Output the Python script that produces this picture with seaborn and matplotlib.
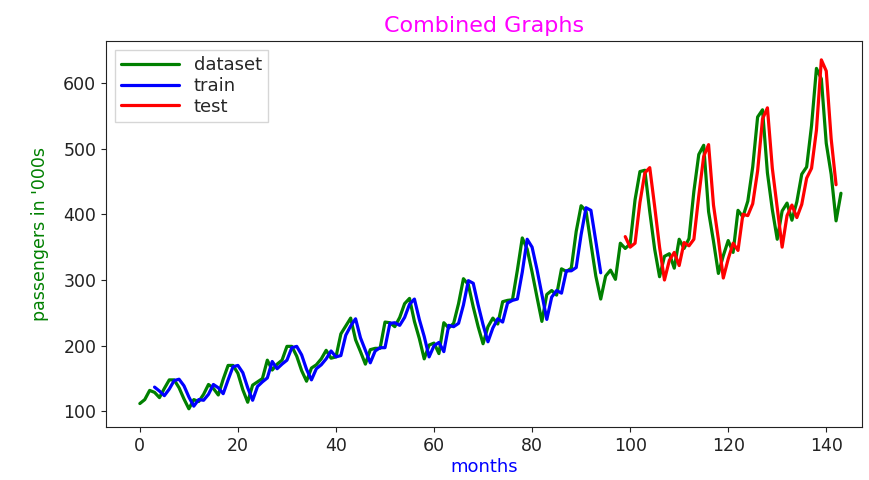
import numpy as np
import pandas as pd
import matplotlib
matplotlib.use("Agg")
import matplotlib.pyplot as plt
import seaborn as sns

# monthly airline passengers ('000s), months 0..143
passengers = [112, 118, 132, 129, 121, 135, 148, 148, 136, 119, 104, 118,
              115, 126, 141, 135, 125, 149, 170, 170, 158, 133, 114, 140,
              145, 150, 178, 163, 172, 178, 199, 199, 184, 162, 146, 166,
              171, 180, 193, 181, 183, 218, 230, 242, 209, 191, 172, 194,
              196, 196, 236, 235, 229, 243, 264, 272, 237, 211, 180, 201,
              204, 188, 235, 227, 234, 264, 302, 293, 259, 229, 203, 229,
              242, 233, 267, 269, 270, 315, 364, 347, 312, 274, 237, 278,
              284, 277, 317, 313, 318, 374, 413, 405, 355, 306, 271, 306,
              315, 301, 356, 348, 355, 422, 465, 467, 404, 347, 305, 336,
              340, 318, 362, 348, 363, 435, 491, 505, 404, 359, 310, 337,
              360, 342, 406, 396, 420, 472, 548, 559, 463, 407, 362, 405,
              417, 391, 419, 461, 472, 535, 622, 606, 508, 461, 390, 432]

# train predictions, months 3..94
train_start = 3
train_pred = [137, 131, 124, 134, 147, 149, 139, 122, 108, 118, 117, 126,
              141, 136, 127, 148, 168, 170, 159, 136, 117, 138, 145, 151,
              176, 165, 172, 178, 197, 199, 186, 164, 148, 165, 171, 180,
              192, 183, 185, 216, 230, 241, 212, 193, 174, 192, 197, 197,
              234, 235, 231, 243, 263, 271, 240, 214, 183, 200, 205, 191,
              231, 229, 234, 262, 299, 295, 262, 232, 206, 227, 241, 236,
              265, 269, 271, 312, 362, 350, 316, 278, 240, 274, 284, 280,
              314, 314, 319, 369, 410, 406, 359, 311]

# test predictions, months 99..142
test_start = 99
test_pred = [366, 350, 356, 418, 463, 471, 412, 350, 300, 330,
             342, 322, 357, 352, 362, 428, 488, 506, 414, 362, 303, 332,
             356, 345, 400, 398, 416, 466, 545, 562, 470, 410, 350, 398,
             414, 395, 415, 455, 470, 528, 635, 618, 515, 445]

df = pd.DataFrame({"month": np.arange(len(passengers)), "value": passengers})
df_train = pd.DataFrame({"month": np.arange(train_start, train_start + len(train_pred)),
                         "value": train_pred})
df_test = pd.DataFrame({"month": np.arange(test_start, test_start + len(test_pred)),
                        "value": test_pred})

sns.set_style("ticks")
plt.rcParams["font.family"] = ["DejaVu Sans"]

fig = plt.figure(figsize=(8.69, 4.8), dpi=100)
ax = fig.add_axes([0.122, 0.110, 0.870, 0.805])

sns.lineplot(data=df, x="month", y="value", color="green", lw=2.3, label="dataset", ax=ax)
sns.lineplot(data=df_train, x="month", y="value", color="blue", lw=2.3, label="train", ax=ax)
sns.lineplot(data=df_test, x="month", y="value", color="red", lw=2.3, label="test", ax=ax)

ax.set_xlim(-6.9, 147.3)
ax.set_ylim(76, 664)
ax.set_xticks([0, 20, 40, 60, 80, 100, 120, 140])
ax.set_yticks([100, 200, 300, 400, 500, 600])
ax.tick_params(labelsize=12.5, colors="#222222")
for s in ax.spines.values():
    s.set_visible(True)
    s.set_color("#222222")

ax.set_title("Combined Graphs", color="magenta", fontsize=16, pad=6)
ax.set_xlabel("months", color="blue", fontsize=13, labelpad=2)
ax.set_ylabel("passengers in '000s", color="green", fontsize=12.5, labelpad=10)

ax.legend(loc="upper left", fontsize=13, handlelength=3.2, labelspacing=0.15,
          borderpad=0.35, fancybox=False, framealpha=0.8)

fig.savefig("out.png", dpi=100)
